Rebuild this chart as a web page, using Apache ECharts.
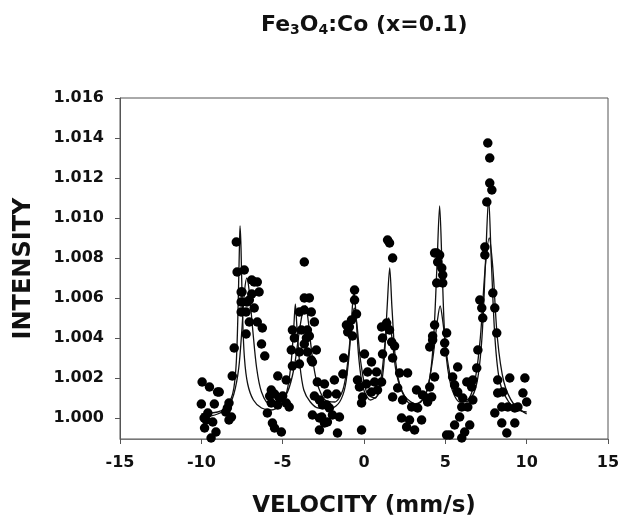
<!DOCTYPE html>
<html>
<head>
<meta charset="utf-8">
<script src="https://cdn.jsdelivr.net/npm/echarts@6/dist/echarts.min.js"></script>
<style>html,body{margin:0;padding:0;background:#fff}#c{width:623px;height:521px}</style>
</head>
<body>
<div id="c"></div>
<script>
// x tick values
const xTicks = [-15, -10, -5, 0, 5, 10, 15];
// y tick values
const yTicks = [1.000, 1.002, 1.004, 1.006, 1.008, 1.010, 1.012, 1.014, 1.016];

// measured points [velocity, intensity]
const measured = [
[-10.0,1.0007],[-9.95,1.0018],[-9.83,1.0000],[-9.8,0.9995],[-9.7,0.9999],[-9.6,1.00025],[-9.5,1.00155],[-9.4,0.9990],[-9.3,0.9998],[-9.2,1.0007],[-9.1,0.9993],[-9.0,1.0013],[-8.9,1.0013],[-8.5,1.0003],[-8.4,1.0005],[-8.3,1.00075],[-8.3,0.9999],[-8.15,1.00005],[-8.1,1.0021],
[-7.98,1.0035],[-7.85,1.0088],[-7.8,1.0073],[-7.55,1.0063],[-7.55,1.0058],[-7.55,1.0053],[-7.5,1.0063],[-7.36,1.0074],[-7.25,1.0042],[-7.25,1.0053],[-7.2,1.0058],[-7.05,1.0059],[-7.05,1.0048],[-6.9,1.0062],[-6.9,1.0069],[-6.75,1.0068],[-6.75,1.0055],[-6.56,1.0068],[-6.56,1.0048],[-6.45,1.0063],[-6.3,1.0037],[-6.25,1.0045],[-6.1,1.0031],
[-5.94,1.00025],[-5.8,1.0011],[-5.7,1.0014],[-5.7,1.00075],[-5.63,0.99975],[-5.5,1.0012],[-5.5,0.9995],[-5.3,1.0021],[-5.3,1.00065],[-5.2,1.001],[-5.08,0.9993],[-5.0,1.0011],
[-4.78,1.0019],[-4.78,1.00075],[-4.6,1.00055],[-4.47,1.0034],[-4.4,1.0044],[-4.4,1.0026],[-4.28,1.004],[-3.97,1.0053],[-3.97,1.0033],[-3.97,1.0027],[-3.85,1.0044],[-3.67,1.0078],[-3.67,1.006],[-3.67,1.0054],[-3.67,1.0037],[-3.54,1.004],[-3.48,1.0044],[-3.48,1.0033],[-3.36,1.006],[-3.36,1.0041],[-3.24,1.0053],[-3.24,1.0029],[-3.17,1.0028],[-3.17,1.00015],[-3.05,1.0048],[-3.05,1.0011],
[-2.93,1.0034],[-2.87,1.0018],[-2.74,1.0009],[-2.74,1.0],[-2.74,0.9994],[-2.6,1.00005],[-2.55,1.00065],[-2.43,1.0017],[-2.43,0.99975],[-2.3,1.00065],[-2.25,1.0012],[-2.25,0.9998],[-2.13,1.0005],[-1.94,1.00015],[-1.82,1.0019],[-1.7,1.0012],[-1.63,0.99925],[-1.51,1.00005],
[-1.3,1.0022],[-1.25,1.0030],[-1.08,1.00465],[-1.0,1.0043],[-0.9,1.00455],[-0.77,1.0049],[-0.71,1.0041],[-0.58,1.0064],[-0.58,1.0059],[-0.46,1.0052],[-0.4,1.0019],[-0.28,1.00155],[-0.15,1.00075],[-0.15,0.9994],[-0.09,1.00105],[0.03,1.0032],[0.15,1.0017],[0.22,1.0023],[0.46,1.0028],[0.46,1.0013],
[0.65,1.0018],[0.77,1.0023],[0.83,1.0014],[1.08,1.0018],[1.08,1.00455],[1.14,1.004],[1.14,1.0032],[1.39,1.00475],[1.45,1.0089],[1.57,1.00875],[1.57,1.0044],[1.7,1.0038],[1.76,1.008],[1.76,1.003],[1.76,1.00105],[1.88,1.0036],[2.07,1.0015],[2.19,1.00225],[2.31,1.0],[2.37,1.0009],[2.62,0.99955],[2.68,1.00225],[2.8,0.9999],[2.93,1.00055],[3.11,0.9994],[3.23,1.0014],[3.3,1.0005],[3.54,0.9999],[3.6,1.00115],[3.85,1.001],[3.91,1.0008],
[4.04,1.00355],[4.04,1.00155],[4.16,1.00105],[4.22,1.0041],[4.22,1.0039],[4.34,1.00465],[4.34,1.00825],[4.34,1.00205],[4.47,1.00825],[4.47,1.00675],[4.53,1.0078],[4.65,1.00815],[4.78,1.0075],[4.84,1.00715],[4.84,1.00675],[4.96,1.00375],[4.96,1.0033],[5.08,1.00425],[5.08,0.99915],[5.27,0.99915],
[5.45,1.00205],[5.57,1.00165],[5.57,0.99965],[5.76,1.00255],[5.76,1.0013],[5.88,1.00005],[6.01,1.00055],[6.01,0.999],[6.07,1.001],[6.19,0.9993],[6.32,1.0018],[6.38,1.00055],[6.5,0.99965],[6.62,1.00155],[6.69,1.0019],[6.69,1.0009],[6.93,1.0025],[7.0,1.0034],
[7.12,1.0059],[7.24,1.0055],[7.3,1.005],[7.43,1.00855],[7.43,1.00815],[7.55,1.0108],[7.61,1.01375],[7.73,1.013],[7.73,1.01175],[7.86,1.0114],[7.92,1.00625],[8.04,1.0055],[8.04,1.00025],[8.16,1.00425],[8.22,1.0019],[8.22,1.00125],[8.47,1.00055],[8.47,0.99975],[8.53,1.0013],[8.78,0.99925],[8.84,1.00055],[8.96,1.002],[9.27,1.0005],[9.27,0.99975],[9.46,1.00055],[9.77,1.00125],[9.89,1.002],[10.0,1.0008]
];

// fit curve A (sharp sextet) [velocity, intensity]
const fitA = [
[-10.0,1.0002],[-9.0,1.0003],[-8.5,1.0005],[-8.2,1.0009],[-8.0,1.0015],[-7.85,1.0028],[-7.75,1.0052],[-7.66,1.0085],[-7.62,1.0096],[-7.56,1.0085],[-7.47,1.0052],[-7.35,1.0030],[-7.15,1.0017],[-6.8,1.0009],[-6.3,1.0005],[-5.7,1.0004],[-5.1,1.0007],[-4.75,1.0013],[-4.5,1.0026],[-4.32,1.0045],[-4.22,1.0057],[-4.12,1.0045],[-3.95,1.0027],[-3.7,1.0014],[-3.3,1.0008],[-2.8,1.0005],[-2.0,1.0005],[-1.5,1.0008],[-1.15,1.0016],[-0.9,1.0033],[-0.72,1.0055],[-0.62,1.0064],[-0.52,1.0055],[-0.32,1.0030],[-0.05,1.0015],[0.4,1.0009],[0.9,1.0012],[1.2,1.0025],[1.42,1.0055],[1.58,1.0075],[1.72,1.0055],[1.95,1.0028],[2.3,1.0014],[2.9,1.0007],[3.5,1.0008],[3.95,1.0016],[4.25,1.0036],[4.48,1.0075],[4.65,1.0106],[4.8,1.0075],[5.0,1.0036],[5.35,1.0016],[5.9,1.0008],[6.5,1.0009],[6.95,1.0018],[7.25,1.0040],[7.48,1.0080],[7.66,1.0110],[7.82,1.0080],[8.05,1.0040],[8.35,1.0018],[8.9,1.0008],[9.5,1.0004],[10.0,1.0003]
];

// fit curve B (broader sextet) [velocity, intensity]
const fitB = [
[-10.0,1.0000],[-9.0,1.0002],[-8.4,1.0005],[-8.0,1.0012],[-7.7,1.0025],[-7.5,1.0045],[-7.35,1.0063],[-7.2,1.0070],[-7.05,1.0063],[-6.85,1.0045],[-6.6,1.0025],[-6.3,1.0013],[-5.8,1.0007],[-5.2,1.0008],[-4.7,1.0013],[-4.3,1.0025],[-4.0,1.0042],[-3.75,1.0054],[-3.6,1.0056],[-3.45,1.0050],[-3.2,1.0032],[-2.9,1.0018],[-2.4,1.0009],[-1.8,1.0008],[-1.3,1.0014],[-1.0,1.0028],[-0.75,1.0048],[-0.6,1.0055],[-0.45,1.0048],[-0.2,1.0028],[0.2,1.0012],[0.7,1.0010],[1.05,1.0020],[1.3,1.0038],[1.52,1.0050],[1.72,1.0040],[2.0,1.0022],[2.5,1.0011],[3.2,1.0007],[3.8,1.0012],[4.2,1.0028],[4.5,1.0048],[4.68,1.0056],[4.85,1.0048],[5.15,1.0028],[5.6,1.0012],[6.3,1.0009],[6.8,1.0018],[7.15,1.0040],[7.45,1.0075],[7.7,1.0090],[7.92,1.0075],[8.2,1.0040],[8.6,1.0018],[9.2,1.0007],[10.0,1.0002]
];

const chart = echarts.init(document.getElementById('c'), null, {renderer: 'canvas'});
const FONT = '"DejaVu Sans", Arial, sans-serif';
chart.setOption({
  backgroundColor: '#fff',
  animation: false,
  title: {
    text: 'Fe{s|3}O{s|4}:Co (x=0.1)',
    left: 256, top: 8,
    textStyle: {
      fontFamily: FONT, fontWeight: 'bold', fontSize: 22, color: '#111',
      rich: { s: { fontFamily: FONT, fontWeight: 'bold', fontSize: 14, color: '#111', verticalAlign: 'bottom', padding: [10, 0, 0, 0] } }
    }
  },
  grid: { left: 120, right: 15, top: 98, bottom: 82, outerBoundsMode: 'none', show: true, borderColor: '#555', borderWidth: 1, backgroundColor: 'transparent' },
  xAxis: {
    type: 'value', min: -15, max: 15, interval: 5,
    name: 'VELOCITY (mm/s)', nameLocation: 'middle', nameGap: 56,
    nameTextStyle: { fontFamily: FONT, fontWeight: 'bold', fontSize: 23, color: '#111' },
    axisLine: { onZero: false, lineStyle: { color: '#777', width: 1 } },
    axisTick: { show: true, inside: false, length: 5, lineStyle: { color: '#555' } },
    axisLabel: { margin: 16, fontFamily: FONT, fontWeight: 'bold', fontSize: 16, color: '#111',
      customValues: xTicks },
    splitLine: { show: false }
  },
  yAxis: {
    type: 'value', min: 0.99895, max: 1.016,
    name: 'INTENSITY', nameLocation: 'middle', nameGap: 84, nameRotate: 90,
    nameTextStyle: { fontFamily: FONT, fontWeight: 'bold', fontSize: 24, color: '#111' },
    axisLine: { onZero: false, lineStyle: { color: '#555', width: 1 } },
    axisTick: { show: true, inside: false, length: 5, lineStyle: { color: '#555' }, customValues: yTicks },
    axisLabel: { margin: 16, fontFamily: FONT, fontWeight: 'bold', fontSize: 16, color: '#111',
      customValues: yTicks, formatter: v => v.toFixed(3) },
    splitLine: { show: false }
  },
  series: [
    { type: 'line', data: fitA, showSymbol: false, smooth: 0.3, lineStyle: { color: '#111', width: 1.3 }, z: 2 },
    { type: 'line', data: fitB, showSymbol: false, smooth: 0.3, lineStyle: { color: '#111', width: 1.3 }, z: 2 },
    { type: 'scatter', data: measured, symbol: 'circle', symbolSize: 9.5, itemStyle: { color: '#000', opacity: 1 }, z: 3 }
  ]
});
</script>
</body>
</html>
